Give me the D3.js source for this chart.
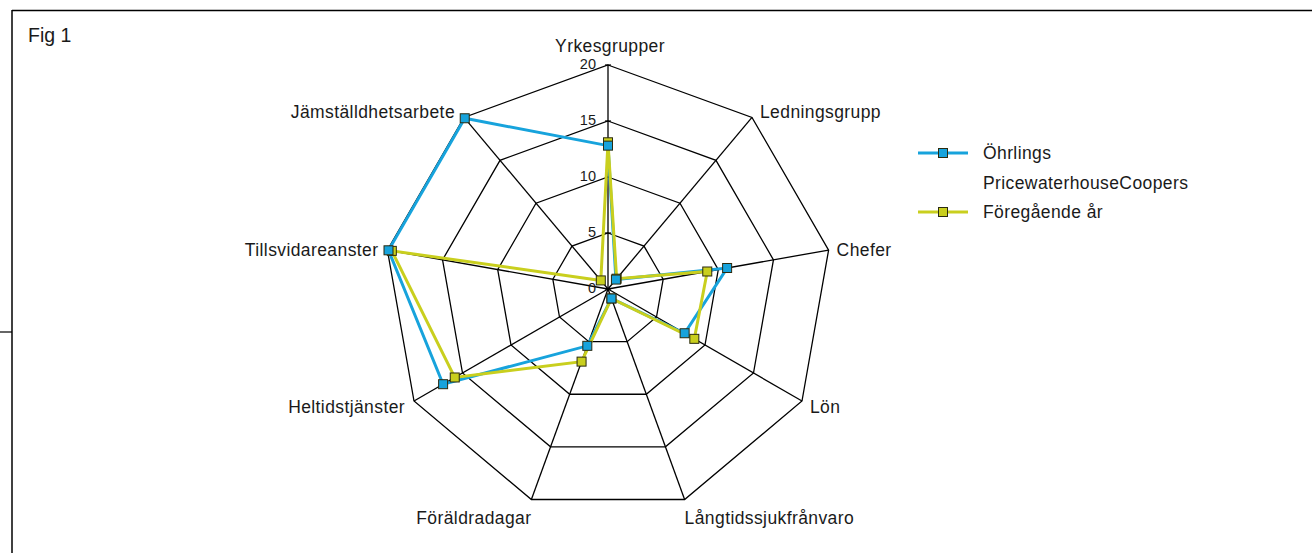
<!DOCTYPE html>
<html>
<head>
<meta charset="utf-8">
<script src="https://cdn.jsdelivr.net/npm/d3@7"></script>
<style>
  body { margin:0; background:#fff; }
  text { font-family:"Liberation Sans", Arial, Helvetica, sans-serif; fill:#1a1a1a; }
  .lbl { font-size:17.5px; letter-spacing:0.4px; }
</style>
</head>
<body>
<script>
// ---------------------------------------------------------------
// Data
// ---------------------------------------------------------------
var categories = ["Yrkesgrupper","Ledningsgrupp","Chefer","Lön","Långtidssjukfrånvaro",
                  "Föräldradagar","Heltidstjänster","Tillsvidareanster","Jämställdhetsarbete"];
var ohrlings = [12.8, 1.1, 10.8, 7.9, 0.9, 5.4, 17.0, 19.9, 19.9];
var previous = [13.1, 1.2, 9.0, 8.9, 0.9, 6.9, 15.8, 19.6, 1.0];
var tickValues = [0, 5, 10, 15, 20];

// ---------------------------------------------------------------
// Layout
// ---------------------------------------------------------------
var W = 1312, H = 553,
    cx = 608, cy = 289, R = 224,
    blue = "#17a3dc", yellow = "#c9cf1e";

var svg = d3.select("body").append("svg").attr("width", W).attr("height", H);

// frame lines
svg.append("line").attr("x1",12).attr("y1",10.5).attr("x2",W).attr("y2",10.5)
   .attr("stroke","#000").attr("stroke-width",1.5);
svg.append("line").attr("x1",12).attr("y1",10).attr("x2",12).attr("y2",H)
   .attr("stroke","#000").attr("stroke-width",1.5);
svg.append("line").attr("x1",0).attr("y1",332).attr("x2",12).attr("y2",332)
   .attr("stroke","#000").attr("stroke-width",1.2);

svg.append("text").attr("x",28).attr("y",42).style("font-size","19.5px").text("Fig 1");

var r = d3.scaleLinear().domain([0, 20]).range([0, R]);
var angle = d3.scalePoint().domain(d3.range(categories.length))
              .range([0, 2*Math.PI*(categories.length-1)/categories.length]);

var g = svg.append("g").attr("transform","translate("+cx+","+cy+")");

function pt(i, v){
   var a = angle(i);
   return [r(v)*Math.sin(a), -r(v)*Math.cos(a)];
}

// rings
var ring = d3.lineRadial().curve(d3.curveLinearClosed);
tickValues.slice(1).forEach(function(t){
   g.append("path")
    .attr("d", ring(categories.map(function(c,i){ return [angle(i), r(t)]; })))
    .attr("fill","none").attr("stroke","#000").attr("stroke-width",1.3);
});

// spokes
categories.forEach(function(c,i){
   var p = pt(i, 20);
   g.append("line").attr("x1",0).attr("y1",0).attr("x2",p[0]).attr("y2",p[1])
    .attr("stroke","#000").attr("stroke-width",1.3);
});

// tick labels + small tick marks on the vertical axis
tickValues.forEach(function(t){
   g.append("line").attr("x1",-3).attr("x2",3).attr("y1",-r(t)).attr("y2",-r(t))
    .attr("stroke","#000").attr("stroke-width",1.2);
   g.append("text").attr("x",-12).attr("y",-r(t)).attr("dy","0.3em")
    .attr("text-anchor","end").style("font-size","14.5px").text(t);
});

// axis labels
categories.forEach(function(c,i){
   var a = angle(i), s = Math.sin(a), co = Math.cos(a), p = pt(i, 20);
   var t = g.append("text").attr("class","lbl").text(c);
   if (Math.abs(s) < 0.1) {
      t.attr("x",p[0]+2).attr("y",p[1]-13).attr("text-anchor","middle");
   } else if (co < -0.9) {
      t.attr("x",p[0]).attr("y",p[1]+18).attr("dy","0.35em")
       .attr("text-anchor", s > 0 ? "start" : "end");
   } else {
      t.attr("x",p[0] + (s > 0 ? 8 : -9)).attr("y",p[1] + 1.5 - 9.5*co).attr("dy","0.35em")
       .attr("text-anchor", s > 0 ? "start" : "end");
   }
});

// series
var series = [{v:ohrlings, c:blue}, {v:previous, c:yellow}];
var line = d3.line().curve(d3.curveLinearClosed);

series.forEach(function(s){
   g.append("path").attr("d", line(s.v.map(function(v,i){ return pt(i,v); })))
    .attr("fill","none").attr("stroke",s.c).attr("stroke-width",3);
});

series.slice().reverse().forEach(function(s){
   g.selectAll(null).data(s.v).enter().append("rect")
    .attr("x",function(v,i){ return pt(i,v)[0]-4.5; })
    .attr("y",function(v,i){ return pt(i,v)[1]-4.5; })
    .attr("width",9).attr("height",9)
    .attr("fill",s.c).attr("stroke","#2b2b10").attr("stroke-width",1);
});

// legend
var leg = svg.append("g").attr("transform","translate(918,153)");
[{c:blue, y:0, label:["Öhrlings","PricewaterhouseCoopers"]},
 {c:yellow, y:59, label:["Föregående år"]}].forEach(function(d){
   leg.append("line").attr("x1",0).attr("x2",50).attr("y1",d.y).attr("y2",d.y)
      .attr("stroke",d.c).attr("stroke-width",3);
   leg.append("rect").attr("x",20.5).attr("y",d.y-4.5).attr("width",9).attr("height",9)
      .attr("fill",d.c).attr("stroke","#2b2b10").attr("stroke-width",1);
   d.label.forEach(function(l,k){
      leg.append("text").attr("class","lbl").attr("x",65).attr("y",d.y+k*30).attr("dy","0.35em")
         .text(l);
   });
});
</script>
</body>
</html>
